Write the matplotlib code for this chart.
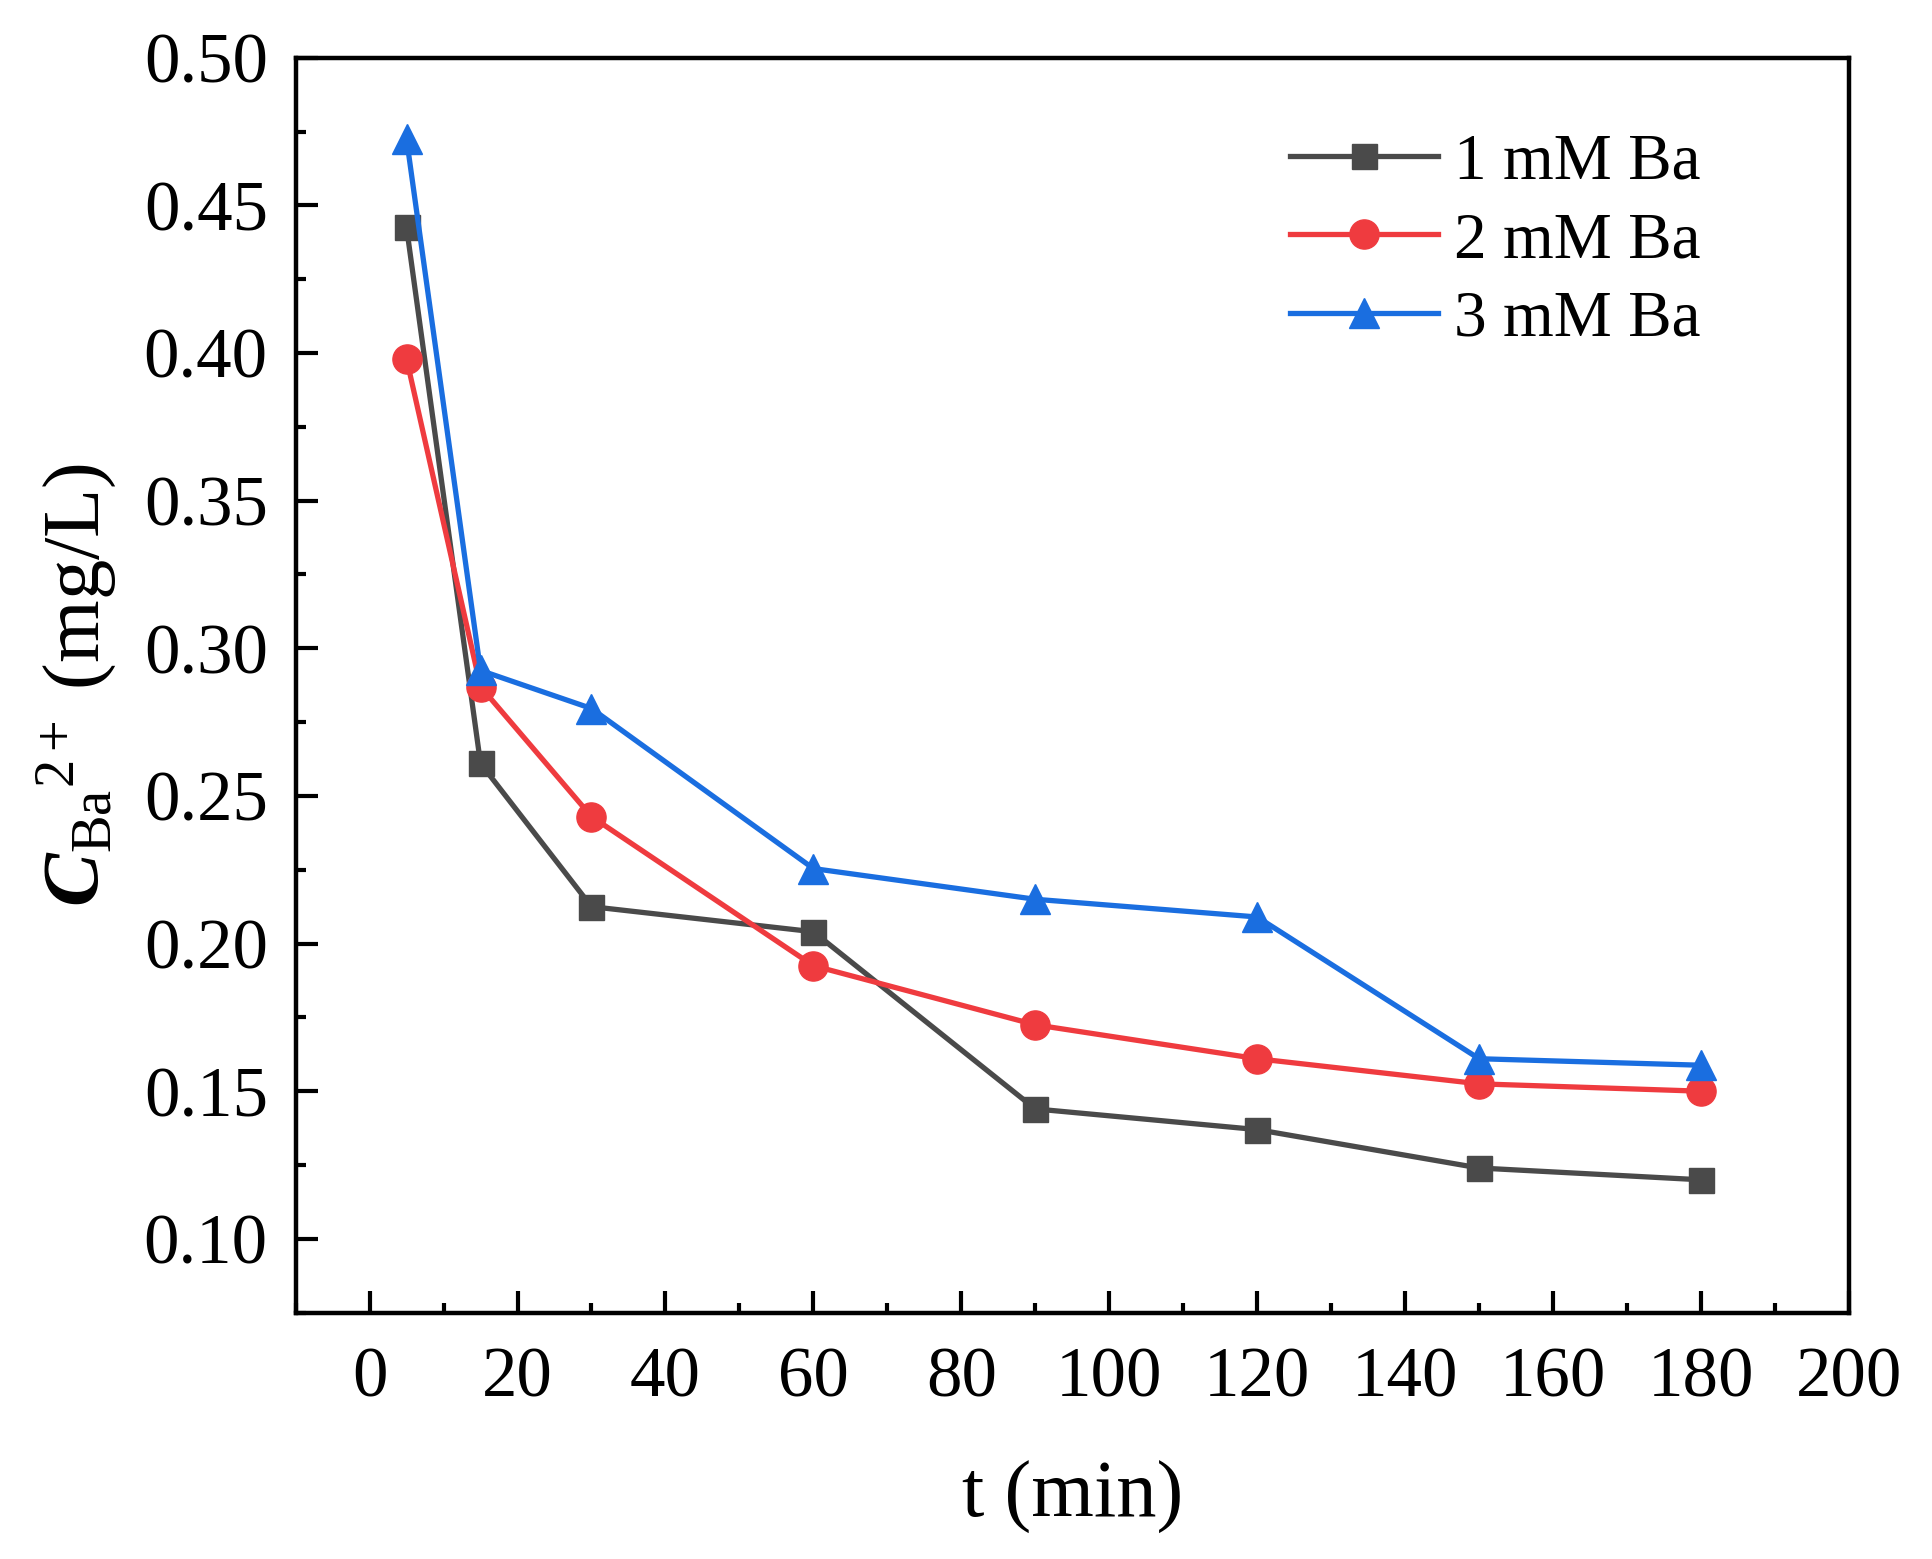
import matplotlib
matplotlib.use('Agg')
import matplotlib.pyplot as plt
from matplotlib.ticker import MultipleLocator

plt.rcParams['font.family'] = ['Liberation Serif', 'DejaVu Serif']
plt.rcParams['mathtext.fontset'] = 'custom'
plt.rcParams['mathtext.rm'] = 'Liberation Serif'
plt.rcParams['mathtext.it'] = 'Liberation Serif:italic'
plt.rcParams['mathtext.bf'] = 'Liberation Serif:bold'
plt.rcParams['mathtext.bfit'] = 'Liberation Serif:bold:italic'

# data
t = [5, 15, 30, 60, 90, 120, 150, 180]
ba1 = [0.4425, 0.261, 0.2125, 0.204, 0.144, 0.137, 0.124, 0.120]
ba2 = [0.398, 0.287, 0.243, 0.1925, 0.1725, 0.161, 0.1525, 0.150]
ba3 = [0.4725, 0.2925, 0.2796, 0.2254, 0.215, 0.209, 0.161, 0.1588]
labels = ['1 mM Ba', '2 mM Ba', '3 mM Ba']

fig = plt.figure(figsize=(19.32, 15.59), dpi=100)
ax = fig.add_axes([0.153, 0.158, 0.804, 0.805])

ax.plot(t, ba1, color='#4a4a4a', lw=3.8, marker='s', ms=18, label=labels[0])
ax.plot(t, ba2, color='#ef3b3f', lw=3.8, marker='o', ms=21, label=labels[1])
ax.plot(t, ba3, color='#1a6ee0', lw=3.8, marker='^', ms=22, label=labels[2])

ax.set_xlim(-10, 200)
ax.set_ylim(0.075, 0.50)
ax.xaxis.set_major_locator(MultipleLocator(20))
ax.xaxis.set_minor_locator(MultipleLocator(10))
ax.yaxis.set_major_locator(MultipleLocator(0.05))
ax.yaxis.set_minor_locator(MultipleLocator(0.025))
ax.yaxis.set_major_formatter(matplotlib.ticker.FormatStrFormatter('%.2f'))

ax.tick_params(which='both', direction='in', top=False, right=False, width=3, labelsize=51)
ax.tick_params(axis='y', pad=20)
ax.tick_params(axis='x', pad=24)
ax.tick_params(which='major', length=16)
ax.tick_params(which='minor', length=7)
for s in ax.spines.values():
    s.set_linewidth(3.2)

ax.set_xlabel('t (min)', fontsize=58, labelpad=36)
ax.set_ylabel(r'$\mathbfit{C}_{\mathrm{Ba}}{}^{2+}$ (mg/L)', fontsize=58, labelpad=18)

ax.legend(loc='upper left', bbox_to_anchor=(0.64, 0.94), frameon=False, fontsize=47,
          handlelength=2.27, handletextpad=0.25, labelspacing=0.29, borderpad=0, borderaxespad=0)

fig.savefig('out.png', dpi=100)
